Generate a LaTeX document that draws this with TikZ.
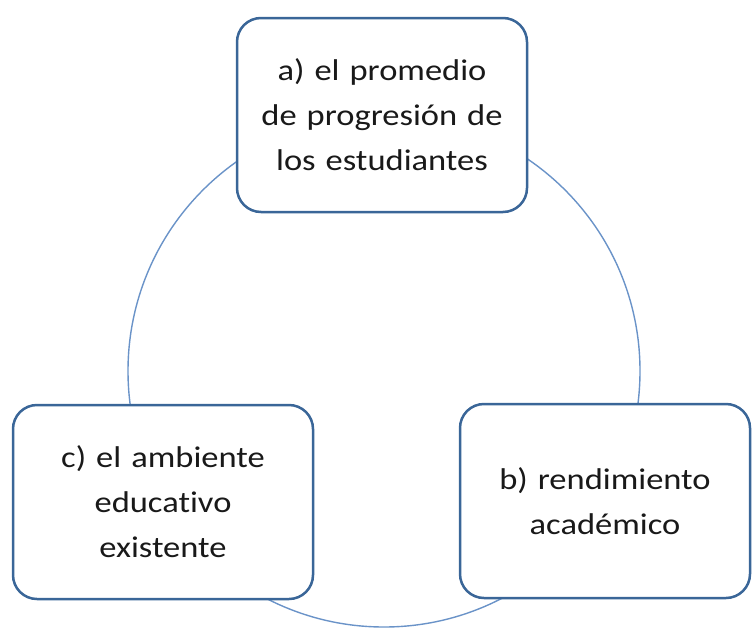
\documentclass[tikz,border=0pt]{standalone}
\usepackage{fontspec}
\setmainfont{Carlito}[FakeStretch=1.15, Ligatures=NoCommon]
\usetikzlibrary{positioning}
\definecolor{borde}{HTML}{3A6698}
\definecolor{circulo}{HTML}{6A93C8}

\begin{document}
\begin{tikzpicture}
      [ x=1pt, y=-1pt,
        caja/.style={draw=borde, line width=2.5pt, rounded corners=24pt,
          fill=white, minimum width=290pt, minimum height=194pt,
          text width=280pt, align=center, text=black!90,
          font=\fontsize{30}{45}\selectfont}
      ]
      \useasboundingbox (0,0) rectangle (752,627);
      \coordinate (centro) at (384,371);
      \draw[circulo, line width=1.4pt] (centro) circle (256pt);

      \node[caja]                     (promedio)    at (382,115)  {a) el promedio\\ de progresión de\\ los estudiantes};
      \node[caja]                     (rendimiento) at (605,501)  {b) rendimiento\\ académico};
      \node[caja, minimum width=300pt] (ambiente)   at (163,502)  {c) el ambiente\\ educativo\\ existente};
\end{tikzpicture}
\end{document}
